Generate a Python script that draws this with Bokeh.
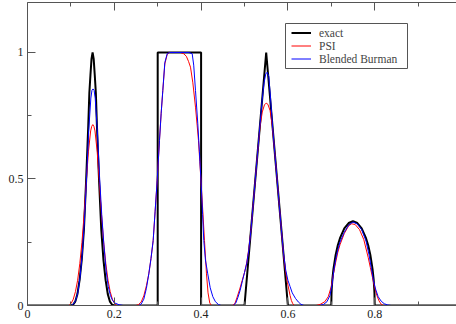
from bokeh.plotting import figure
from bokeh.models import Range1d, FixedTicker, LinearAxis, Legend, LegendItem, BoxAnnotation
from bokeh.embed import file_html
from bokeh.resources import INLINE

# ---------------- data ----------------
x_ticks = [0, 0.2, 0.4, 0.6, 0.8]
x_minor = [0.1, 0.3, 0.5, 0.7, 0.9]
x_labels = {0: "0", 0.2: "0.2", 0.4: "0.4", 0.6: "0.6", 0.8: "0.8"}
y_ticks = [0, 0.5, 1]
y_minor = [0.25, 0.75]
y_labels = {0: "0", 0.5: "0.5", 1: "1"}

series_names = ["exact", "PSI", "Blended Burman"]

exact_x = [0.0,
           0.100, 0.105, 0.110, 0.115, 0.120, 0.125, 0.130, 0.135, 0.140,
           0.1425, 0.145, 0.1475, 0.150, 0.1525, 0.155, 0.1575,
           0.160, 0.165, 0.170, 0.175, 0.180, 0.185, 0.190, 0.195, 0.200,
           0.300, 0.300, 0.400, 0.400,
           0.500, 0.550, 0.600,
           0.700, 0.7005, 0.701, 0.7025, 0.705, 0.710, 0.715, 0.720, 0.730, 0.740, 0.750,
           0.760, 0.770, 0.780, 0.785, 0.790, 0.795, 0.7975, 0.799, 0.7995, 0.800,
           0.99]
exact_y = [0,
           0, 0.003, 0.015, 0.045, 0.10, 0.18, 0.30, 0.49, 0.71,
           0.84, 0.91, 0.975, 1.0, 0.975, 0.91, 0.84,
           0.71, 0.49, 0.30, 0.18, 0.10, 0.045, 0.015, 0.003, 0,
           0, 1, 1, 0,
           0, 1, 0,
           0, 0.047, 0.066, 0.104, 0.145, 0.200, 0.238, 0.266, 0.305, 0.326, 0.333,
           0.326, 0.305, 0.266, 0.238, 0.200, 0.145, 0.104, 0.066, 0.047, 0,
           0]

psi_x = [0.0,
         0.0955, 0.1005, 0.1055, 0.1105, 0.1155, 0.1205, 0.1255, 0.1305, 0.1355, 0.1405, 0.1455, 0.148, 0.1505,
         0.153, 0.1555, 0.1605, 0.1655, 0.1705, 0.1755, 0.1805, 0.1855, 0.1905, 0.1955, 0.2005, 0.2055,
         0.250, 0.256, 0.262, 0.268, 0.274, 0.2795, 0.2845, 0.2896, 0.294, 0.2988, 0.3041, 0.308, 0.3118,
         0.3164, 0.3219, 0.327, 0.340, 0.352, 0.360, 0.366, 0.371, 0.3756, 0.381, 0.3871, 0.391, 0.394,
         0.397, 0.4002, 0.404, 0.4078, 0.4124, 0.416, 0.420, 0.424,
         0.472, 0.478, 0.483, 0.489, 0.4947, 0.500, 0.505, 0.510, 0.515, 0.520, 0.530, 0.536, 0.541,
         0.546, 0.550, 0.554, 0.559, 0.564, 0.570, 0.580, 0.585, 0.590, 0.595, 0.599, 0.602, 0.605,
         0.608, 0.611, 0.615,
         0.665, 0.675, 0.685, 0.693, 0.700, 0.705, 0.710, 0.715, 0.720, 0.730, 0.740, 0.747, 0.755,
         0.765, 0.775, 0.785, 0.790, 0.795, 0.800, 0.805, 0.810, 0.815, 0.820,
         0.99]
psi_y = [0,
         0, 0.008, 0.025, 0.055, 0.10, 0.165, 0.25, 0.36, 0.49, 0.61, 0.69, 0.708, 0.715,
         0.708, 0.69, 0.61, 0.49, 0.36, 0.25, 0.165, 0.10, 0.055, 0.025, 0.008, 0,
         0, 0.004, 0.014, 0.038, 0.078, 0.125, 0.185, 0.257, 0.37, 0.494, 0.652, 0.76, 0.85,
         0.955, 0.992, 1.0, 1.0, 1.0, 0.995, 0.985, 0.965, 0.942, 0.88, 0.784, 0.71, 0.652,
         0.57, 0.48, 0.37, 0.257, 0.125, 0.05, 0.01, 0,
         0, 0.008, 0.033, 0.065, 0.099, 0.13, 0.168, 0.225, 0.30, 0.40, 0.60, 0.71, 0.765,
         0.793, 0.80, 0.795, 0.77, 0.71, 0.60, 0.40, 0.30, 0.20, 0.13, 0.09, 0.065, 0.04,
         0.02, 0.008, 0,
         0, 0.005, 0.015, 0.035, 0.075, 0.125, 0.17, 0.21, 0.24, 0.285, 0.315, 0.323, 0.32,
         0.30, 0.26, 0.19, 0.15, 0.11, 0.07, 0.04, 0.018, 0.005, 0,
         0]

bb_x = [0.0,
        0.101, 0.106, 0.111, 0.116, 0.121, 0.126, 0.131, 0.136, 0.141, 0.146, 0.1485, 0.151,
        0.1535, 0.156, 0.161, 0.166, 0.171, 0.176, 0.181, 0.186, 0.191, 0.196, 0.201, 0.211, 0.221,
        0.256, 0.262, 0.268, 0.274, 0.2795, 0.2845, 0.2896, 0.294, 0.2988, 0.3041, 0.308, 0.3118,
        0.3164, 0.3219, 0.327, 0.372, 0.3795, 0.383, 0.3871, 0.3924, 0.396, 0.4002, 0.4035, 0.4062,
        0.410, 0.4154, 0.421, 0.427, 0.433, 0.440, 0.446,
        0.474, 0.480, 0.485, 0.490, 0.4955, 0.500, 0.505, 0.510, 0.515, 0.520, 0.530, 0.540, 0.545,
        0.549, 0.5523, 0.556, 0.560, 0.565, 0.570, 0.580, 0.585, 0.590, 0.595, 0.600, 0.605, 0.610,
        0.6175, 0.624, 0.630, 0.637,
        0.672, 0.682, 0.690, 0.697, 0.702, 0.706, 0.710, 0.715, 0.720, 0.730, 0.740, 0.750, 0.760,
        0.770, 0.780, 0.787, 0.792, 0.797, 0.802, 0.808, 0.815, 0.822, 0.830, 0.838,
        0.99]
bb_y = [0,
        0, 0.006, 0.02, 0.05, 0.11, 0.20, 0.33, 0.50, 0.69, 0.82, 0.85, 0.856,
        0.85, 0.82, 0.69, 0.51, 0.36, 0.24, 0.14, 0.075, 0.04, 0.02, 0.01, 0.003, 0,
        0, 0.006, 0.025, 0.068, 0.125, 0.185, 0.257, 0.37, 0.494, 0.652, 0.76, 0.85,
        0.96, 0.995, 1.0, 1.0, 0.995, 0.95, 0.85, 0.718, 0.61, 0.48, 0.36, 0.257,
        0.18, 0.125, 0.07, 0.035, 0.015, 0.004, 0,
        0, 0.01, 0.033, 0.06, 0.099, 0.13, 0.165, 0.22, 0.30, 0.40, 0.60, 0.80, 0.88,
        0.915, 0.922, 0.905, 0.82, 0.70, 0.60, 0.40, 0.30, 0.205, 0.14, 0.10, 0.075, 0.05,
        0.028, 0.014, 0.005, 0,
        0, 0.004, 0.015, 0.04, 0.085, 0.14, 0.18, 0.22, 0.25, 0.29, 0.318, 0.33, 0.322,
        0.30, 0.255, 0.20, 0.15, 0.10, 0.065, 0.035, 0.017, 0.007, 0.002, 0,
        0]

# ---------------- figure ----------------
FONT = "Liberation Serif"
AX = "#555555"

p = figure(width=456, height=324,
           x_range=Range1d(0, 0.9885), y_range=Range1d(0, 1.1976),
           x_axis_type=None, y_axis_type=None,
           output_backend="svg", toolbar_location=None,
           min_border_left=27, min_border_right=0,
           min_border_top=2, min_border_bottom=19)
p.outline_line_color = None
p.background_fill_color = "white"
p.border_fill_color = "white"


def style(ax):
    ax.axis_line_color = AX
    ax.axis_line_width = 1
    ax.major_tick_line_color = AX
    ax.minor_tick_line_color = AX
    ax.major_tick_in = 8
    ax.major_tick_out = 0
    ax.minor_tick_in = 4
    ax.minor_tick_out = 0
    ax.major_label_text_font = FONT
    ax.major_label_text_font_size = "12px"
    ax.major_label_text_color = "#222222"
    ax.major_label_standoff = 4


xb = LinearAxis(ticker=FixedTicker(ticks=x_ticks, minor_ticks=x_minor),
                major_label_overrides=x_labels)
style(xb)
p.add_layout(xb, "below")

yl = LinearAxis(ticker=FixedTicker(ticks=y_ticks, minor_ticks=y_minor),
                major_label_overrides=y_labels)
style(yl)
p.add_layout(yl, "left")

# top frame edge with inward ticks, no labels
xt = LinearAxis(ticker=FixedTicker(ticks=x_ticks, minor_ticks=x_minor))
style(xt)
xt.major_label_text_color = None
xt.major_label_text_font_size = "1px"
xt.major_label_standoff = 0
p.add_layout(xt, "above")

r1 = p.line(exact_x, exact_y, line_color="black", line_width=2)
r2 = p.line(psi_x, psi_y, line_color="#ff0000", line_width=1)
r3 = p.line(bb_x, bb_y, line_color="#0000ff", line_width=1)

# legend frame (screen units, measured from the plot frame's bottom-left)
legend_box = BoxAnnotation(left=258, right=380, bottom=237, top=282,
                           left_units="screen", right_units="screen",
                           bottom_units="screen", top_units="screen",
                           fill_color="white", fill_alpha=1,
                           line_color=AX, line_width=1, line_alpha=1)
p.add_layout(legend_box)

# one legend per row so rows sit close together as in the reference
row_bottoms = [266, 253, 240]
for name, rend, yb in zip(series_names, [r1, r2, r3], row_bottoms):
    lg = Legend(items=[LegendItem(label=name, renderers=[rend])],
                location=(264, yb), padding=0, spacing=0, margin=0,
                label_height=13, glyph_height=13, glyph_width=20, label_standoff=8,
                label_text_font=FONT, label_text_font_size="11.5px",
                border_line_color=None, background_fill_alpha=0)
    p.add_layout(lg)

open("out.html", "w").write(file_html(p, INLINE))
